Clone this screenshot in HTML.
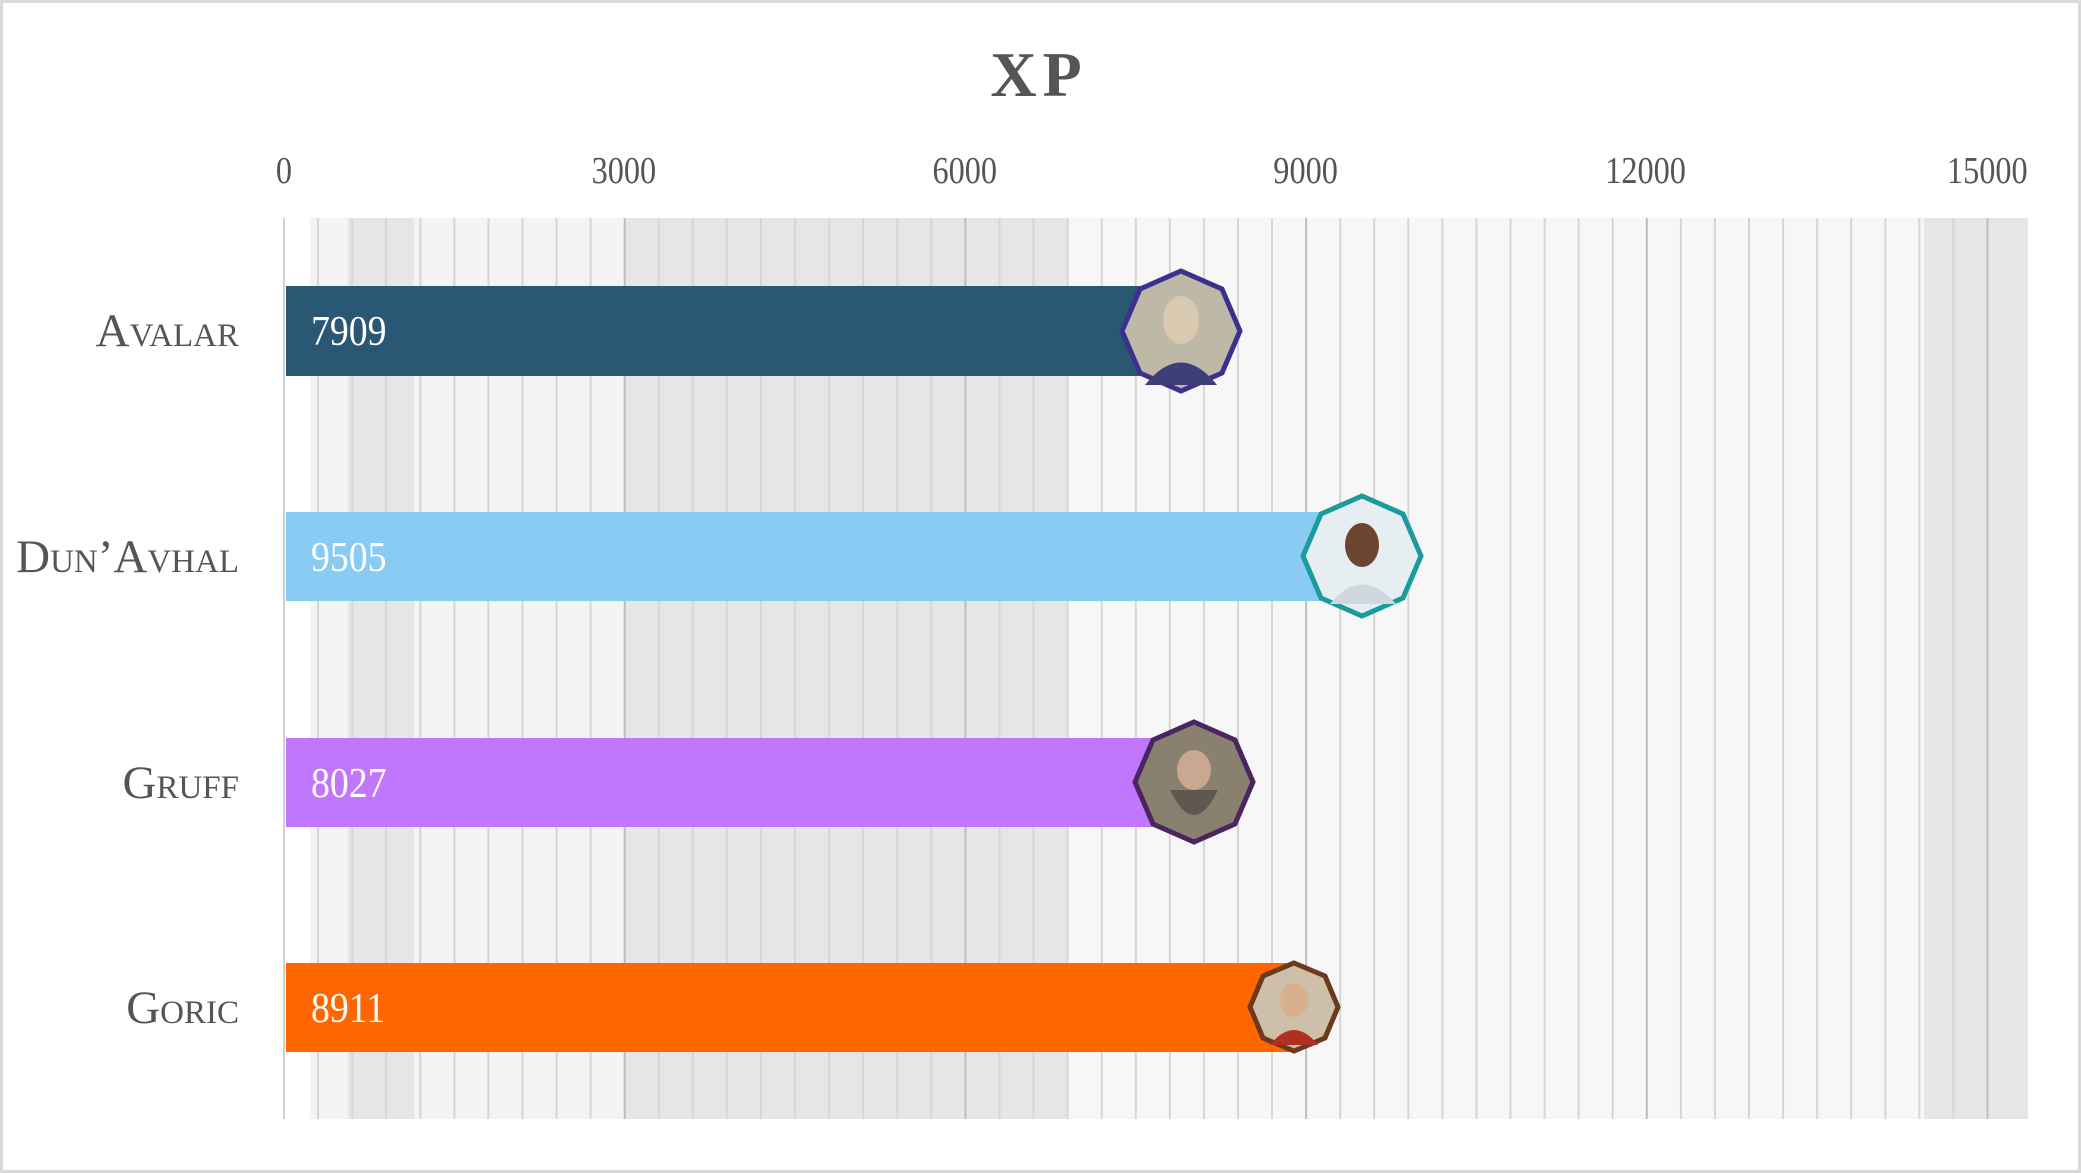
<!DOCTYPE html>
<html><head><meta charset="utf-8"><style>
html,body{margin:0;padding:0;background:#fff}
svg{display:block}
text{font-family:"Liberation Serif",serif}
</style></head><body>
<svg width="2081" height="1173" viewBox="0 0 2081 1173" xmlns="http://www.w3.org/2000/svg">
<rect x="1.5" y="1.5" width="2078" height="1170" fill="#fff" stroke="#d9d9d9" stroke-width="3"/>
<text x="1039" y="96" text-anchor="middle" font-size="64" font-weight="bold" fill="#555" letter-spacing="6">XP</text>
<g font-size="38" fill="#555" text-anchor="middle" transform="scale(0.85,1)">
<text x="334" y="183">0</text>
<text x="734" y="183">3000</text>
<text x="1135" y="183">6000</text>
<text x="1536" y="183">9000</text>
<text x="1936" y="183">12000</text>
<text x="2338" y="183">15000</text>
</g>
<rect x="310" y="218" width="1718" height="901" fill="#f4f4f4"/>
<rect x="348" y="218" width="66" height="901" fill="#e6e6e6"/>
<rect x="624" y="218" width="443" height="901" fill="#e6e6e6"/>
<rect x="1067" y="218" width="857" height="901" fill="#f7f7f7"/>
<rect x="1924" y="218" width="104" height="901" fill="#e6e6e6"/>
<path stroke="#d6d6d6" stroke-width="2" d="M318.1,218V1119M352.1,218V1119M386.2,218V1119M420.3,218V1119M454.4,218V1119M488.4,218V1119M522.5,218V1119M556.6,218V1119M590.6,218V1119M658.8,218V1119M692.8,218V1119M726.9,218V1119M761,218V1119M795.1,218V1119M829.1,218V1119M863.2,218V1119M897.3,218V1119M931.3,218V1119M999.5,218V1119M1033.5,218V1119M1067.6,218V1119M1101.7,218V1119M1135.8,218V1119M1169.8,218V1119M1203.9,218V1119M1238,218V1119M1272,218V1119M1340.2,218V1119M1374.2,218V1119M1408.3,218V1119M1442.4,218V1119M1476.5,218V1119M1510.5,218V1119M1544.6,218V1119M1578.7,218V1119M1612.7,218V1119M1680.9,218V1119M1714.9,218V1119M1749,218V1119M1783.1,218V1119M1817.2,218V1119M1851.2,218V1119M1885.3,218V1119M1919.4,218V1119M1953.4,218V1119"/>
<path stroke="#bdbdbd" stroke-width="2" d="M624.7,218V1119M965.4,218V1119M1306.1,218V1119M1646.8,218V1119M1987.5,218V1119"/>
<line x1="284" y1="218" x2="284" y2="1119" stroke="#d0d0d0" stroke-width="2"/>
<rect x="286" y="286" width="895" height="90" fill="#2a5773"/>
<rect x="286" y="512" width="1076" height="89" fill="#89cbf3"/>
<rect x="286" y="738" width="908" height="89" fill="#c177fd"/>
<rect x="286" y="963" width="1008" height="89" fill="#ff6600"/>
<g font-size="42" fill="#fff" transform="scale(0.9,1)">
<text x="345.5" y="345">7909</text>
<text x="345.5" y="571">9505</text>
<text x="345.5" y="797">8027</text>
<text x="345.5" y="1022">8911</text>
</g>
<g font-size="47" fill="#555" text-anchor="end" style="font-variant:small-caps">
<text x="239" y="346">Avalar</text>
<text x="239" y="572">Dun’Avhal</text>
<text x="239" y="798">Gruff</text>
<text x="239" y="1023">Goric</text>
</g>
<g stroke-width="5">
<polygon points="1181,271 1222,289 1240,331 1222,373 1181,391 1140,373 1122,331 1140,289" fill="#bdb9a6" stroke="#3b318c"/>
<ellipse cx="1181" cy="320" rx="18" ry="24" fill="#d8c9b0" stroke="none"/><path d="M1145,385 Q1181,340 1217,385Z" fill="#3d3f78" stroke="none"/>
<polygon points="1362,496 1403,514 1421,556 1403,598 1362,616 1321,598 1303,556 1321,514" fill="#e6eef2" stroke="#1a9c9e"/>
<ellipse cx="1362" cy="545" rx="17" ry="22" fill="#6b4530" stroke="none"/><path d="M1330,604 Q1362,565 1396,604Z" fill="#cfd8de" stroke="none"/>
<polygon points="1194,722 1235,740 1253,782 1235,824 1194,842 1153,824 1135,782 1153,740" fill="#8a8070" stroke="#4a2560"/>
<ellipse cx="1194" cy="770" rx="17" ry="20" fill="#c8a890" stroke="none"/><path d="M1170,790 Q1194,840 1218,790Z" fill="#605850" stroke="none"/>
<polygon points="1294,963 1325,976 1338,1007 1325,1038 1294,1051 1263,1038 1250,1007 1263,976" fill="#cdbfa8" stroke="#6b3a1e"/>
<ellipse cx="1294" cy="1000" rx="14" ry="17" fill="#d8b090" stroke="none"/><path d="M1270,1045 Q1294,1015 1318,1045Z" fill="#b03020" stroke="none"/>
</g>
</svg>
</body></html>
